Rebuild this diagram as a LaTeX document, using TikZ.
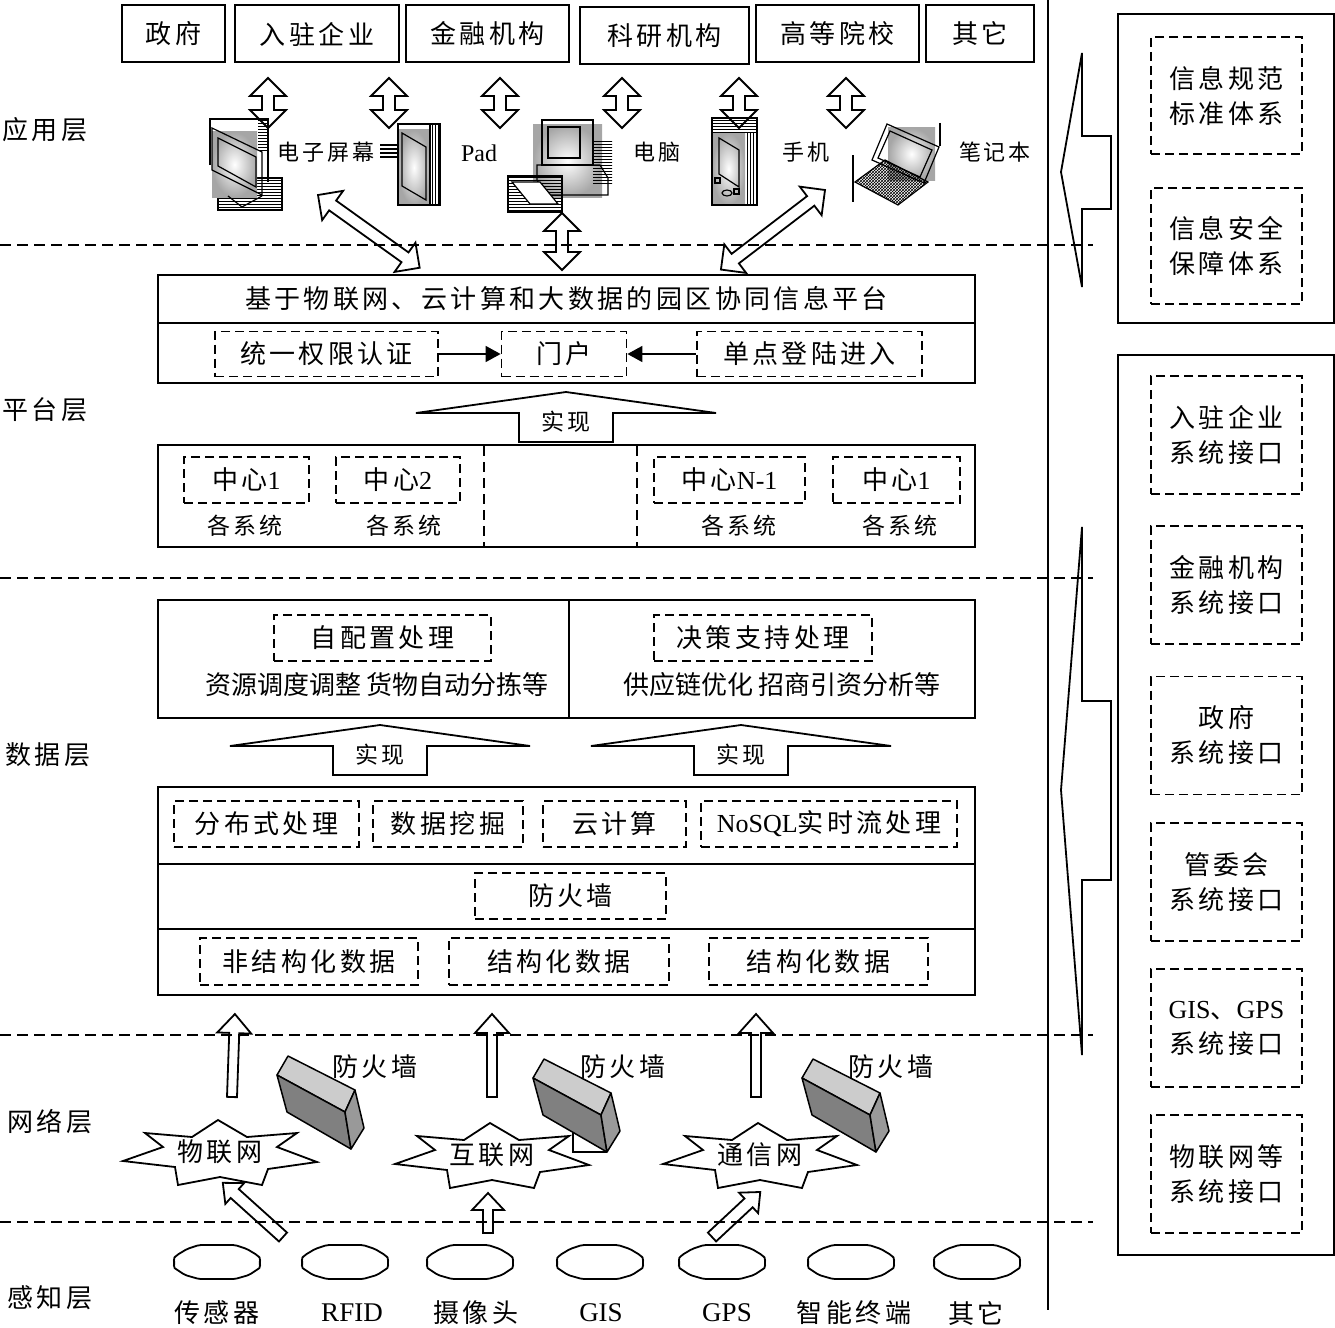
\documentclass[tikz,border=0pt]{standalone}
\usepackage{fontspec}
\setmainfont{Noto Sans CJK SC}[LetterSpace=13]
\newfontfamily\tightcjk{Noto Sans CJK SC}
\newfontfamily\lat{Liberation Serif}
\usetikzlibrary{arrows.meta,patterns}

\newcommand{\dblarrow}[3]{%
  \draw[hollow,shift={#1},rotate=#2] (0,0) -- (18,-18) -- (18,-6) -- (#3-18,-6)
    -- (#3-18,-18) -- (#3,0) -- (#3-18,18) -- (#3-18,6) -- (18,6) -- (18,18) -- cycle;}
\newcommand{\sglarrow}[6]{%
  \draw[hollow,shift={#1},rotate=#2] (0,-#4) -- (#3-#6,-#4) -- (#3-#6,-#5) -- (#3,0)
    -- (#3-#6,#5) -- (#3-#6,#4) -- (0,#4) -- cycle;}
\newcommand{\firewall}[1]{%
  \begin{scope}[shift={#1},fwline]
    \filldraw[fill=gray!40] (0,0) -- (11,-19) -- (78,15) -- (68,37) -- cycle;
    \filldraw[fill=gray] (0,0) -- (68,37) -- (74,74) -- (10,37) -- cycle;
    \filldraw[fill=gray!80] (68,37) -- (78,15) -- (87,53) -- (74,74) -- cycle;
  \end{scope}}
\newcommand{\burst}[1]{%
  \draw[outline,shift={#1}] (-97,9) -- (-57,-5) -- (-75,-19) -- (-28,-15) -- (-2,-32)
    -- (27,-15) -- (77,-19) -- (57,-5) -- (97,10) -- (48,17) -- (42,33) -- (0,25)
    -- (-42,33) -- (-45,15) -- cycle;}
\newcommand{\sensorcloud}[1]{%
  \draw[outline,rounded corners=2,shift={#1}] (-44,-3) -- (-40,-7) -- (-30,-13) -- (-18,-17)
    -- (18,-17) -- (30,-13) -- (40,-7) -- (44,-3) -- (42,1) -- (44,5) -- (32,13) -- (18,17)
    -- (-18,17) -- (-32,13) -- (-44,5) -- (-42,1) -- cycle;}

\begin{document}
\begin{tikzpicture}[x=1pt,y=-1pt,font=\fontsize{26}{32}\selectfont]
\tikzset{outline/.style={line width=1.8pt,line join=miter}}
\tikzset{hollow/.style={outline}}
\tikzset{box/.style={draw,line width=2pt,inner sep=0pt}}
\tikzset{dashbox/.style={draw,line width=1.8pt,dash pattern=on 9pt off 5pt,inner sep=0pt}}
\tikzset{layerline/.style={line width=1.8pt,dash pattern=on 11pt off 6pt}}
\tikzset{fwline/.style={line width=1.5pt,line join=round}}
\tikzset{iconline/.style={line width=1.2pt}}
\tikzset{glow/.style={inner color=white,outer color=gray!70}}
\tikzset{devlabel/.style={font=\fontsize{22}{26}\selectfont}}
\tikzset{smalltext/.style={font=\fontsize{23}{26}\selectfont}}
\tikzset{plaintext/.style={font=\tightcjk\fontsize{26}{30}\selectfont}}
\tikzset{sidetext/.style={align=center,font=\fontsize{26}{35}\selectfont}}
\tikzset{realize/.pic={
  \draw[hollow] (0,-29) -- (150,-8) -- (47,-8) -- (47,21) -- (-47,21) -- (-47,-8) -- (-150,-8) -- cycle;
  \node[smalltext] (-txt) at (0,1) {实现};}}

\useasboundingbox (0,0) rectangle (1335,1327);

\foreach \y in {245,578,1035,1222} {\draw[layerline] (0,\y) -- (1093,\y);}
\draw[outline] (1048,0) -- (1048,1310);

\node (lapp) at (45,130) {应用层};
\node (lplat) at (45,410) {平台层};
\node (ldata) at (48,755) {数据层};
\node (lnet) at (50,1122) {网络层};
\node (lsense) at (50,1298) {感知层};

\node[box,minimum width=103,minimum height=57] (gov) at (173.5,34) {政府};
\node[box,minimum width=164,minimum height=57] (ent) at (317,34) {入驻企业};
\node[box,minimum width=163,minimum height=57] (fin) at (487.5,34) {金融机构};
\node[box,minimum width=169,minimum height=57] (lab) at (664.5,36) {科研机构};
\node[box,minimum width=163,minimum height=57] (uni) at (837.5,34) {高等院校};
\node[box,minimum width=108,minimum height=57] (other) at (980,34) {其它};

\foreach \x in {268,389,500,622,739,846} {\dblarrow{(\x,78)}{-90}{50}}

% screen
\fill[pattern=horizontal lines] (218,178) rectangle (282,210);
\draw[iconline] (218,178) rectangle (282,210);
\shade[glow] (212,132) rectangle (257,197);
\fill[pattern=horizontal lines] (258,120) rectangle (268,150);
\draw[iconline] (210,165) -- (210,119) -- (268,119) -- (268,182);
\draw[iconline] (212,128) -- (262,152) -- (262,195) -- (212,170) -- cycle;
\draw[iconline] (218,138) -- (256,157) -- (256,187) -- (218,166) -- cycle;
\draw[iconline] (228,196) -- (242,207) -- (262,196);
% pad
\foreach \y in {145,149,153,157} {\draw[line width=1.6pt] (380,\y) -- (415,\y);}
\shade[glow] (398,130) rectangle (430,205);
\fill[pattern=vertical lines] (430,124) rectangle (440,205);
\draw[iconline] (398,124) rectangle (440,205);
\draw[iconline] (430,124) -- (430,205);
\draw[iconline] (402,133) -- (426,147) -- (426,200) -- (402,186) -- cycle;
% computer
\shade[glow] (533,125) rectangle (602,197);
\fill[pattern=horizontal lines] (593,140) rectangle (612,185);
\draw[iconline] (542,120) rectangle (593,165);
\draw[iconline] (548,127) rectangle (580,158);
\draw[iconline] (537,165) -- (600,165) -- (608,178) -- (608,195) -- (545,195) -- (537,180) -- cycle;
\fill[pattern=horizontal lines] (508,176) rectangle (562,212);
\draw[iconline] (508,176) rectangle (562,212);
\draw[iconline,fill=white] (512,182) -- (540,182) -- (558,204) -- (530,204) -- cycle;
% phone
\shade[glow] (712,133) rectangle (745,205);
\fill[pattern=horizontal lines] (712,118) rectangle (757,133);
\fill[pattern=vertical lines] (745,133) rectangle (757,205);
\draw[iconline] (712,118) rectangle (757,205);
\draw[iconline] (719,138) -- (739,150) -- (739,187) -- (719,174) -- cycle;
\draw[iconline] (715,178) rectangle (720,183);
\draw[iconline] (734,189) rectangle (739,194);
\draw[iconline] (727,193) ellipse (5 and 3);
% laptop
\shade[glow] (888,128) rectangle (935,180);
\draw[iconline] (853,155) -- (853,202);
\draw[iconline] (940,123) -- (940,146);
\draw[iconline] (887,124) -- (939,147) -- (924,183) -- (872,160) -- cycle;
\draw[iconline] (890,131) -- (932,150) -- (920,177) -- (878,158) -- cycle;
\fill[pattern=crosshatch] (855,182) -- (885,160) -- (928,182) -- (898,205) -- cycle;
\draw[iconline] (855,182) -- (885,160) -- (928,182) -- (898,205) -- cycle;

\node[devlabel] (screenlbl) at (326,152) {电子屏幕};
\node[font=\lat\fontsize{24}{28}\selectfont] (padlbl) at (479,153) {Pad};
\node[devlabel] (pclbl) at (657,152) {电脑};
\node[devlabel] (phonelbl) at (806,152) {手机};
\node[devlabel] (laptoplbl) at (995,152) {笔记本};

\dblarrow{(318,195)}{-35.6}{125}
\dblarrow{(825,190)}{-142.6}{131}
\dblarrow{(562,213)}{-90}{57}

\node[box,minimum width=817,minimum height=48] (ptitle) at (566.5,299) {基于物联网、云计算和大数据的园区协同信息平台};
\node[box,minimum width=817,minimum height=60] (prow) at (566.5,353) {};
\node[dashbox,minimum width=223,minimum height=45] (auth) at (326.5,354) {统一权限认证};
\node[dashbox,minimum width=125,minimum height=45] (portal) at (564,354) {门户};
\node[dashbox,minimum width=225,minimum height=45] (sso) at (809.5,354) {单点登陆进入};
\draw[line width=1.6pt,-{Triangle[length=15pt,width=16pt]}] (auth) -- (portal);
\draw[line width=1.6pt,-{Triangle[length=15pt,width=16pt]}] (sso) -- (portal);

\pic (r1) at (566,421) {realize};

\node[box,minimum width=817,minimum height=102] (centers) at (566.5,496) {};
\draw[outline,dash pattern=on 10pt off 6pt] (484,446) -- (484,546);
\draw[outline,dash pattern=on 10pt off 6pt] (637,446) -- (637,546);
\node[dashbox,minimum width=125,minimum height=46] (c1) at (246.5,480) {中心{\lat 1}};
\node[dashbox,minimum width=124,minimum height=46] (c2) at (398,480) {中心{\lat 2}};
\node[dashbox,minimum width=151,minimum height=46] (cn) at (729.5,480) {中心{\lat N-1}};
\node[dashbox,minimum width=127,minimum height=46] (c4) at (896.5,480) {中心{\lat 1}};
\node[smalltext] (s1) at (245,526) {各系统};
\node[smalltext] (s2) at (404,526) {各系统};
\node[smalltext] (s3) at (739,526) {各系统};
\node[smalltext] (s4) at (900,526) {各系统};

\node[box,minimum width=411,minimum height=118] (selfcfg) at (363.5,659) {};
\node[box,minimum width=406,minimum height=118] (decide) at (772,659) {};
\node[dashbox,minimum width=217,minimum height=46] (cfg) at (382.5,638) {自配置处理};
\node[dashbox,minimum width=218,minimum height=46] (dss) at (763,638) {决策支持处理};
\node[plaintext] (cfgtxt) at (377,685) {资源调度调整\ 货物自动分拣等};
\node[plaintext] (dsstxt) at (782,685) {供应链优化\ 招商引资分析等};

\pic (r2) at (380,754) {realize};
\pic (r3) at (741,754) {realize};

\node[box,minimum width=817,minimum height=77] (rowa) at (566.5,825.5) {};
\node[box,minimum width=817,minimum height=65] (rowb) at (566.5,896.5) {};
\node[box,minimum width=817,minimum height=66] (rowc) at (566.5,962) {};
\node[dashbox,minimum width=185,minimum height=46] (dist) at (266.5,824) {分布式处理};
\node[dashbox,minimum width=150,minimum height=46] (mine) at (448,824) {数据挖掘};
\node[dashbox,minimum width=143,minimum height=46] (cloud) at (614.5,824) {云计算};
\node[dashbox,minimum width=256,minimum height=46] (nosql) at (829,824) {{\lat NoSQL}实时流处理};
\node[dashbox,minimum width=191,minimum height=46] (fwall) at (570.5,896) {防火墙};
\node[dashbox,minimum width=218,minimum height=47] (unstr) at (309,961.5) {非结构化数据};
\node[dashbox,minimum width=220,minimum height=47] (str1) at (559,961.5) {结构化数据};
\node[dashbox,minimum width=219,minimum height=47] (str2) at (818.5,961.5) {结构化数据};

\sglarrow{(232,1097)}{88}{83}{5}{17}{19}
\sglarrow{(492,1097)}{90}{83}{5}{17}{19}
\sglarrow{(756,1097)}{90}{83}{5}{17}{19}

\draw[outline] (573,1128) rectangle (606,1152);
\firewall{(277,1075)}
\firewall{(533,1078)}
\firewall{(802,1078)}
\node (fw1) at (375,1067) {防火墙};
\node (fw2) at (623,1067) {防火墙};
\node (fw3) at (891,1067) {防火墙};

\node (iot) at (220,1152) {物联网};
\node (inet) at (492,1155) {互联网};
\node (tel) at (760,1155) {通信网};
\burst{(iot.center)}
\burst{(inet.center)}
\burst{(tel.center)}

\sglarrow{(283,1237)}{138}{81}{6}{14}{16}
\sglarrow{(488,1233)}{90}{40}{5}{16}{17}
\sglarrow{(712,1237)}{43}{66}{6}{14}{16}

\foreach \x in {217,345,470,600,722,851,977} {\sensorcloud{(\x,1262)}}
\node (sensor) at (217,1313) {传感器};
\node[font=\lat\fontsize{27}{30}\selectfont] (rfid) at (352,1313) {RFID};
\node (camera) at (476,1313) {摄像头};
\node[font=\lat\fontsize{27}{30}\selectfont] (gis) at (601,1313) {GIS};
\node[font=\lat\fontsize{27}{30}\selectfont] (gps) at (727,1313) {GPS};
\node (smart) at (854,1313) {智能终端};
\node (misc) at (976,1313) {其它};

\draw[outline] (1082,53) -- (1082,136) -- (1111,136) -- (1111,209) -- (1082,209) -- (1082,287) -- (1061,172) -- cycle;
\draw[outline] (1082,527) -- (1082,701) -- (1111,701) -- (1111,880) -- (1082,880) -- (1082,1055) -- (1061,790) -- cycle;

\node[box,minimum width=216,minimum height=309] (stdframe) at (1226,168.5) {};
\node[dashbox,sidetext,minimum width=151,minimum height=117] (spec) at (1226.5,95.5) {信息规范\\标准体系};
\node[dashbox,sidetext,minimum width=151,minimum height=116] (secu) at (1226.5,246) {信息安全\\保障体系};
\node[box,minimum width=216,minimum height=900] (ifframe) at (1226,805) {};
\node[dashbox,sidetext,minimum width=151,minimum height=118] (if1) at (1226.5,435) {入驻企业\\系统接口};
\node[dashbox,sidetext,minimum width=151,minimum height=118] (if2) at (1226.5,585) {金融机构\\系统接口};
\node[dashbox,sidetext,minimum width=151,minimum height=118] (if3) at (1226.5,735.5) {政府\\系统接口};
\node[dashbox,sidetext,minimum width=151,minimum height=118] (if4) at (1226.5,882) {管委会\\系统接口};
\node[dashbox,sidetext,minimum width=151,minimum height=118] (if5) at (1226.5,1028) {{\lat GIS}、{\lat GPS}\\系统接口};
\node[dashbox,sidetext,minimum width=151,minimum height=118] (if6) at (1226.5,1174) {物联网等\\系统接口};
\end{tikzpicture}
\end{document}
